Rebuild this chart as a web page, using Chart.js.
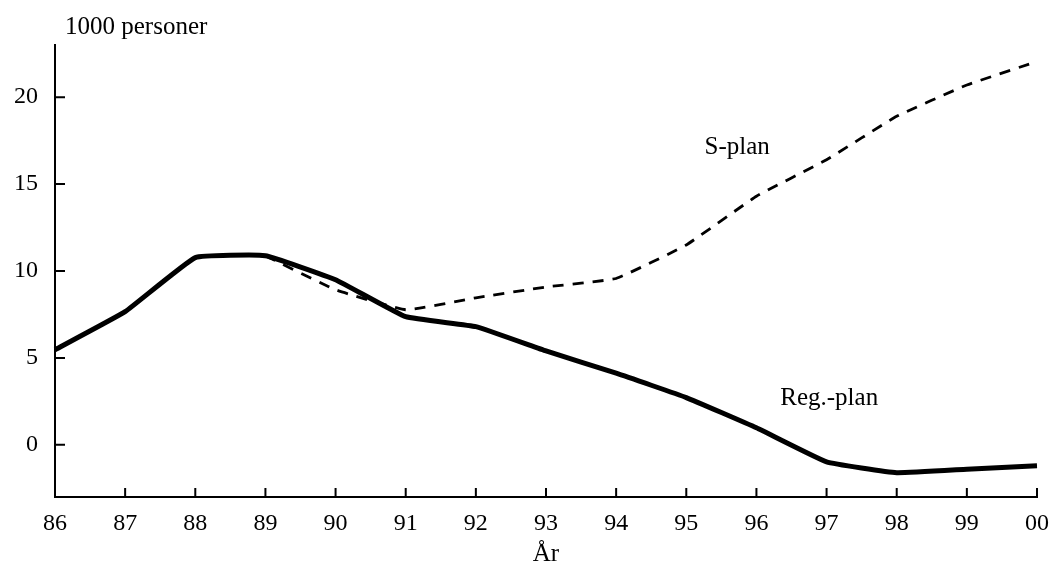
<!DOCTYPE html>
<html>
<head>
<meta charset="utf-8">
<script src="https://cdn.jsdelivr.net/npm/chart.js@4.4.0/dist/chart.umd.min.js"></script>
<style>
  html, body { margin: 0; padding: 0; background: #fff; }
  #wrap { width: 1049px; height: 567px; }
</style>
</head>
<body>
<div id="wrap"><canvas id="chart"></canvas></div>
<script>
// years 1986 - 2000
var years = ["86", "87", "88", "89", "90", "91", "92", "93", "94", "95", "96", "97", "98", "99", "00"];
// Reg.-plan (solid)
var regPlan = [5.47, 7.66, 10.77, 10.88, 9.5, 7.37, 6.8, 5.4, 4.12, 2.72, 0.98, -0.98, -1.6, -1.4, -1.2];
// S-plan (dashed), splits off after 89
var sPlan = [null, null, null, 10.88, 8.92, 7.77, 8.46, 9.08, 9.57, 11.5, 14.3, 16.4, 18.9, 20.7, 22.05];
var yTicks = [0, 5, 10, 15, 20];

var serif = "'Liberation Serif', 'DejaVu Serif', serif";

// inward tick marks + free labels
var decor = {
	id: "decor",
	afterDraw: function(chart){
		var ctx = chart.ctx;
		var xs = chart.scales.x, ys = chart.scales.y;
		var area = chart.chartArea;
		ctx.save();
		ctx.strokeStyle = "#000";
		ctx.lineWidth = 2;
		ctx.beginPath();
		for (var i = 1; i < years.length; i++) {
			var px = xs.getPixelForValue(i);
			ctx.moveTo(px, area.bottom);
			ctx.lineTo(px, area.bottom - 9);
		}
		yTicks.forEach(function(v){
			var py = ys.getPixelForValue(v);
			ctx.moveTo(area.left, py);
			ctx.lineTo(area.left + 10, py);
		});
		ctx.stroke();

		ctx.fillStyle = "#000";
		ctx.font = "25px " + serif;
		ctx.textBaseline = "alphabetic";
		ctx.textAlign = "left";
		ctx.fillText("1000 personer", 65, 34);
		ctx.fillText("S-plan", xs.getPixelForValue(9.26), ys.getPixelForValue(16.75));
		ctx.fillText("Reg.-plan", xs.getPixelForValue(10.34), ys.getPixelForValue(2.3));
		ctx.textAlign = "center";
		ctx.fillText("År", xs.getPixelForValue(7.0), 561);
		ctx.restore();
	}
};

var ctx = document.getElementById("chart").getContext("2d");
var myChart = new Chart(ctx, {
	type: "line",
	data: {
		labels: years,
		datasets: [{
			label: "Reg.-plan",
			data: regPlan,
			borderColor: "#000",
			borderWidth: 5,
			pointRadius: 0,
			tension: 0.1,
			fill: false
		}, {
			label: "S-plan",
			data: sPlan,
			borderColor: "#000",
			borderWidth: 2.8,
			borderDash: [11, 9],
			pointRadius: 0,
			tension: 0.1,
			fill: false
		}]
	},
	options: {
		responsive: true,
		maintainAspectRatio: false,
		animation: false,
		layout: { padding: { top: 45, right: 12, left: 0, bottom: 0 } },
		plugins: {
			legend: { display: false },
			tooltip: { enabled: false }
		},
		scales: {
			x: {
				offset: false,
				border: { display: true, color: "#000", width: 2 },
				grid: { display: false, drawTicks: false },
				ticks: {
					color: "#000",
					padding: 12,
					maxRotation: 0,
					autoSkip: false,
					font: { family: serif, size: 24 }
				},
				afterFit: function(scale){
					scale.height = 70;
					scale.paddingRight = 0;
					scale.paddingLeft = 0;
				}
			},
			y: {
				min: -3,
				max: 23,
				border: { display: true, color: "#000", width: 2 },
				grid: { display: false, drawTicks: false },
				ticks: {
					color: "#000",
					padding: 17,
					font: { family: serif, size: 24 }
				},
				afterBuildTicks: function(scale){
					scale.ticks = yTicks.map(function(v){ return { value: v }; });
				},
				afterFit: function(scale){ scale.width = 55; }
			}
		}
	},
	plugins: [decor]
});
</script>
</body>
</html>
